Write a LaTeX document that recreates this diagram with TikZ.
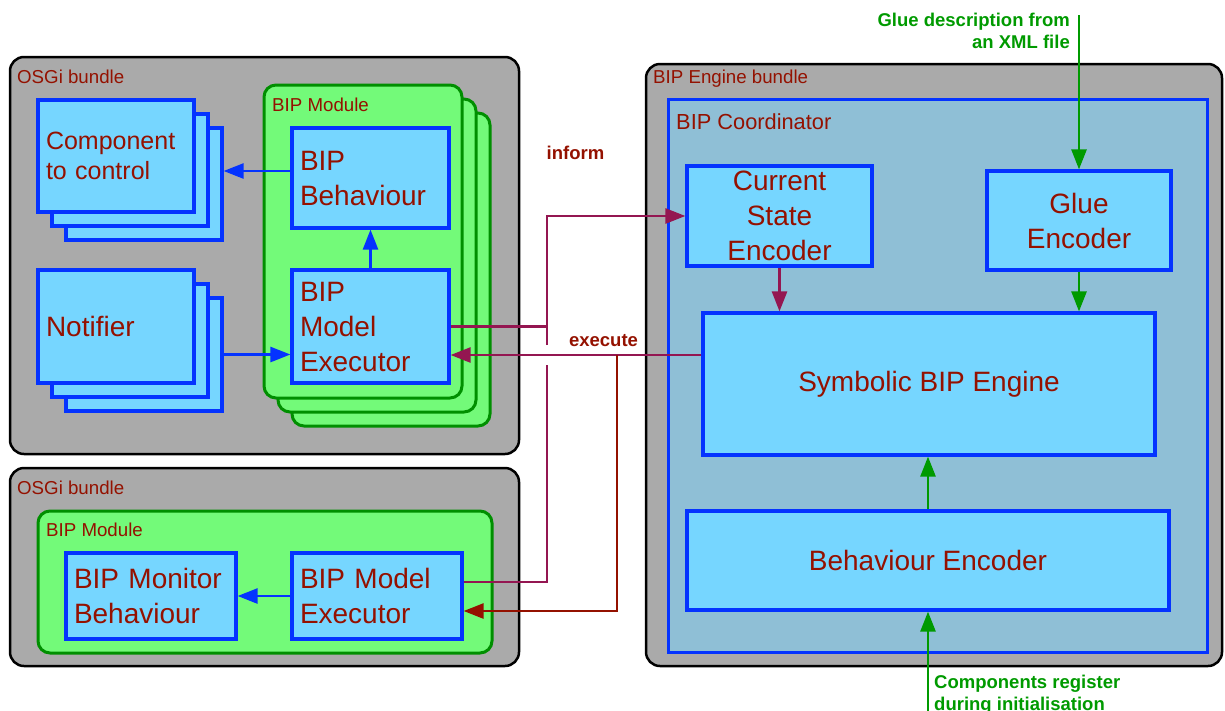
\documentclass[tikz,border=0pt]{standalone}
\usepackage{fontspec}
\setmainfont{Liberation Sans}
\usepackage{xcolor}
\usepackage{tikz}
\usetikzlibrary{arrows.meta}
\definecolor{bundleGray}{HTML}{AAAAAA}
\definecolor{boxFill}{HTML}{76D6FF}
\definecolor{boxLine}{HTML}{0433FF}
\definecolor{moduleFill}{HTML}{73FA79}
\definecolor{moduleLine}{HTML}{008F00}
\definecolor{coordFill}{HTML}{8FBFD6}
\definecolor{labelRed}{HTML}{941100}
\definecolor{informColor}{HTML}{941651}
\definecolor{glueGreen}{HTML}{009A00}

\tikzset{
    bundle/.style={draw=black, line width=2.5pt, fill=bundleGray, rounded corners=14pt},
    module/.style={draw=moduleLine, line width=3pt, fill=moduleFill, rounded corners=12pt},
    box/.style={draw=boxLine, line width=3.2pt, fill=boxFill, text=labelRed,
        font=\fontsize{28}{35}\selectfont, inner xsep=8pt, inner ysep=0pt},
    tag/.style={anchor=base west, inner sep=0pt, text=labelRed,
        font=\fontsize{18.7}{22}\selectfont},
    flowtag/.style={anchor=base, inner sep=0pt, font=\bfseries\fontsize{18.5}{22}\selectfont},
    tip/.style={-{Triangle[length=20pt, width=15pt]}},
    blueline/.style={line width=2.6pt, draw=boxLine},
    informline/.style={line width=2.6pt, draw=informColor},
    execline/.style={line width=2.6pt, draw=labelRed},
    glueline/.style={line width=2.6pt, draw=glueGreen}
}

\begin{document}
\begin{tikzpicture}[x=1pt, y=-1pt]

    \useasboundingbox (0,0) rectangle (1225,710);
    \clip (0,0) rectangle (1225,710);

    % bundles
    \draw[bundle] (10,57) rectangle (519,454);
    \draw[bundle] (10,468) rectangle (519,666);
    \draw[bundle] (646,64) rectangle (1222,666);
    \node[tag] (osgiTop) at (17,83) {OSGi bundle};
    \node[tag] (osgiLow) at (17,494) {OSGi bundle};
    \node[tag] (engineTag) at (653,83) {BIP Engine bundle};

    % upper OSGi bundle
    \foreach \i in {2,1} {
        \node[box, minimum width=156pt, minimum height=112pt] (comp\i) at ({116+14*\i},{156+14*\i}) {};
        \node[box, minimum width=156pt, minimum height=113pt] (notif\i) at ({116+14*\i},{326.5+14*\i}) {};
    }
    \node[box, align=left, font=\fontsize{25}{30}\selectfont, text width=140pt,
        minimum height=112pt] (comp) at (116,156) {Component\\to control};
    \node[box, align=left, text width=140pt, minimum height=113pt] (notif) at (116,326.5) {Notifier};

    \foreach \i in {2,1,0}
        \node[module, minimum width=198pt, minimum height=313pt] (mod\i) at ({363+14*\i},{241.5+14*\i}) {};
    \node[tag] (modTop) at (272,111) {BIP Module};

    \node[box, align=left, text width=141pt, minimum height=100pt] (behav) at (370.5,178) {BIP\\Behaviour};
    \node[box, align=left, text width=141pt, minimum height=113pt] (exec) at (370.5,326.5) {BIP\\Model\\Executor};

    \draw[blueline, tip] ([yshift=7pt]behav.west) -- ([yshift=7pt]behav.west -| comp2.east);
    \draw[blueline, tip] (exec.north) -- (behav.south);
    \draw[blueline, tip] (notif2.east) -- (notif2.east -| exec.west);

    % lower OSGi bundle
    \node[module, minimum width=454pt, minimum height=142pt] (modLow) at (265,582) {};
    \node[tag] (modLowTag) at (46,536.5) {BIP Module};
    \node[box, align=left, text width=154pt, minimum height=86pt] (mon) at (151,596) {BIP Monitor\\Behaviour};
    \node[box, align=left, text width=154pt, minimum height=86pt] (exec2) at (377,596) {BIP Model\\Executor};
    \draw[blueline, tip] (exec2.west) -- (mon.east);

    % BIP engine bundle
    \draw[draw=boxLine, line width=3pt, fill=coordFill] (668,99) rectangle (1207,652);
    \node[tag, font=\fontsize{21.8}{26}\selectfont] (coordTag) at (676,129.5) {BIP Coordinator};

    \node[box, align=center, minimum width=185pt, minimum height=100pt] (cse) at (779.5,216) {Current\\State\\Encoder};
    \node[box, align=center, minimum width=184pt, minimum height=99pt] (glue) at (1079,220.5) {Glue\\Encoder};
    \node[box, align=center, minimum width=452pt, minimum height=142pt] (sym) at (929,384) {Symbolic BIP Engine};
    \node[box, align=center, minimum width=482pt, minimum height=99pt] (benc) at (928,560.5) {Behaviour Encoder};

    \draw[informline, tip] (cse.south) -- (cse.south |- sym.north);
    \draw[glueline, tip] (glue.south) -- (glue.south |- sym.north);
    \draw[glueline, tip] (benc.north) -- (benc.north |- sym.south);

    % inform / execute wiring
    \coordinate (busTop) at (547,345);
    \coordinate (busLow) at (547,365);
    \coordinate (fork) at (617,355);
    \draw[informline] ([yshift=14pt]exec2.east) -| (busLow);
    \draw[informline] (exec.east) -- (exec.east -| busTop);
    \draw[informline, tip] (busTop) |- (cse.west);
    \draw[informline, tip] ([yshift=29pt]sym.west) -- ([yshift=-28.5pt]exec.east);
    \draw[execline, tip] (fork) |- ([yshift=-15pt]exec2.east);
    \node[flowtag, text=labelRed] (informTag) at (575.5,159.5) {inform};
    \node[flowtag, text=labelRed] (executeTag) at (603.5,346) {execute};

    % inputs
    \coordinate (glueSrc) at (1079,15);
    \coordinate (regSrc) at (928,720);
    \draw[glueline, tip] (glueSrc) -- (glue.north);
    \draw[glueline, tip] (regSrc) -- (benc.south);
    \node[flowtag, text=glueGreen, align=right, anchor=north east] (glueTag) at (1070,12.5)
        {Glue description from\\an XML file};
    \node[flowtag, text=glueGreen, align=left, anchor=north west] (regTag) at (934,674.5)
        {Components register\\during initialisation};
\end{tikzpicture}
\end{document}
